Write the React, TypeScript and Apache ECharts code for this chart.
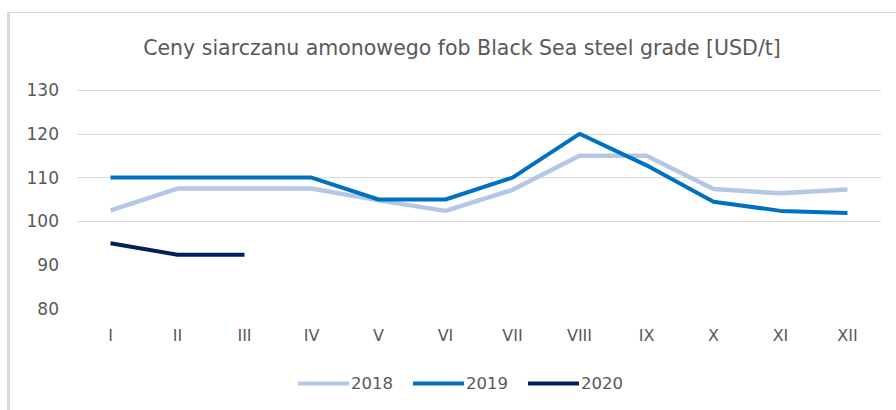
import React, { useEffect, useRef } from "react";
import * as echarts from "echarts";

const categories = ["I", "II", "III", "IV", "V", "VI", "VII", "VIII", "IX", "X", "XI", "XII"];
const s2018 = [102.5, 107.5, 107.5, 107.5, 104.8, 102.4, 107.2, 115, 115, 107.4, 106.4, 107.3];
const s2019 = [110, 110, 110, 110, 105, 105, 110, 120, 112.8, 104.5, 102.4, 101.9];
const s2020 = [95, 92.4, 92.4];
const titleText = "Ceny siarczanu amonowego fob Black Sea steel grade [USD/t]";

const FONT = "DejaVu Sans";
const TEXT = "#595959";

export default function App() {
  const ref = useRef<HTMLDivElement>(null);
  useEffect(() => {
    if (!ref.current) return;
    const chart = echarts.init(ref.current, undefined, { renderer: "svg" });
    const plotH = 410 - 90 - 101;
    chart.setOption({
      animation: false,
      backgroundColor: "#ffffff",
      textStyle: { fontFamily: FONT },
      title: {
        text: titleText,
        left: 457,
        textAlign: "center",
        top: 32,
        textStyle: { fontFamily: FONT, fontSize: 20.5, fontWeight: "normal", color: TEXT },
      },
      graphic: [
        { type: "line", shape: { x1: 7, y1: 12.5, x2: 896, y2: 12.5 }, style: { stroke: "#d9d9d9", lineWidth: 1 } },
        { type: "rect", shape: { x: 7, y: 12, width: 3, height: 400 }, style: { fill: "#d9d9d9" } },
      ],
      legend: {
        left: 293,
        top: 370,
        icon: "rect",
        itemWidth: 51,
        itemHeight: 4,
        itemGap: 20,
        textStyle: { fontFamily: FONT, fontSize: 16.5, color: TEXT, padding: [0, 0, 0, -3] },
        data: ["2018", "2019", "2020"],
      },
      grid: [
        { left: 77, right: 15, top: 90, bottom: 101 },
        { left: 77, right: 15, top: 90, height: (plotH * 30) / 50 },
      ],
      xAxis: [
        {
          type: "category",
          data: categories,
          boundaryGap: true,
          gridIndex: 0,
          axisLine: { show: false },
          axisTick: { show: false },
          axisLabel: { color: TEXT, fontSize: 16, fontFamily: FONT, margin: 18 },
          splitLine: { show: false },
        },
        {
          type: "category",
          data: categories,
          gridIndex: 1,
          show: false,
        },
      ],
      yAxis: [
        {
          type: "value",
          min: 80,
          max: 130,
          interval: 10,
          gridIndex: 0,
          axisLine: { show: false },
          axisTick: { show: false },
          splitLine: { show: false },
          axisLabel: { color: TEXT, fontSize: 17, fontFamily: FONT, margin: 18 },
        },
        {
          type: "value",
          min: 100,
          max: 130,
          interval: 10,
          gridIndex: 1,
          axisLine: { show: false },
          axisTick: { show: false },
          axisLabel: { show: false },
          splitLine: { show: true, lineStyle: { color: "#d9d9d9", width: 1 } },
        },
      ],
      series: [
        {
          name: "2018",
          type: "line",
          data: s2018,
          z: 3,
          showSymbol: false,
          symbol: "none",
          color: "#B4C7E7",
          lineStyle: { width: 4.5, color: "#B4C7E7" },
        },
        {
          name: "2019",
          type: "line",
          data: s2019,
          z: 4,
          showSymbol: false,
          symbol: "none",
          color: "#0070C0",
          lineStyle: { width: 4, color: "#0070C0" },
        },
        {
          name: "2020",
          type: "line",
          data: s2020,
          z: 5,
          showSymbol: false,
          symbol: "none",
          color: "#002060",
          lineStyle: { width: 4, color: "#002060" },
        },
      ],
    });
    return () => chart.dispose();
  }, []);
  return (
    <div
      ref={ref}
      style={{ position: "fixed", left: 0, top: 0, width: 896, height: 410 }}
    />
  );
}
